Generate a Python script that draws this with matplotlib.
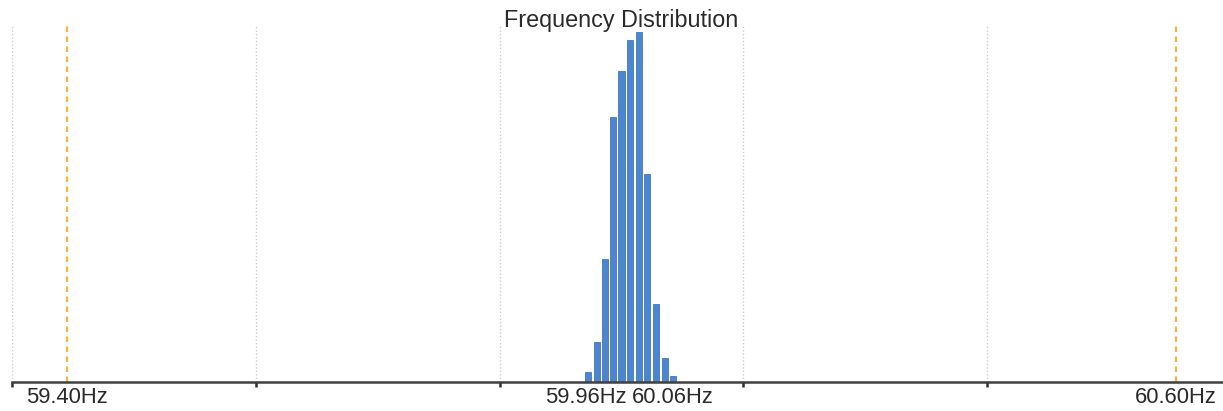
import matplotlib
matplotlib.use("Agg")
import matplotlib.pyplot as plt
import numpy as np

# bin centres (Hz) and bar heights
bins = [59.964, 59.973, 59.982, 59.991, 60.000, 60.009,
        60.019, 60.028, 60.037, 60.047, 60.056]
counts = [9, 39, 122, 264, 310, 341, 349, 207, 77, 23, 5]

limits = [59.40, 60.60]          # orange dashed limit lines
labels = ["59.40Hz", "59.96Hz", "60.06Hz", "60.60Hz"]
label_pos = [59.40, 59.96, 60.06, 60.60]
label_shift = [0, 1, -4, 0]      # px nudges so labels don't collide

xmin, xmax = 59.34, 60.66

plt.rcParams["font.family"] = ["Liberation Sans", "DejaVu Sans"]

fig = plt.figure(figsize=(12.23, 4.11), dpi=100)
ax = fig.add_axes([12 / 1223, 29.5 / 411, 1219 / 1223, 356.5 / 411])

# grid: 5 equal divisions of the range
grid_x = np.linspace(xmin, xmax, 6)
for gx in grid_x:
    ax.axvline(gx, color="#cfcfcf", lw=1, ls=(0, (1, 1.5)), zorder=0)

for lx in limits:
    ax.axvline(lx, color="#f8b245", lw=1.6, ls=(0, (2.5, 2)), zorder=1)

ax.bar(bins, counts, width=0.0066, color="#4a86d2", edgecolor="#3568a8",
       linewidth=0.5, zorder=2)

ax.set_xlim(xmin, xmax)
ax.set_ylim(0, 356)

for s in ["top", "left", "right"]:
    ax.spines[s].set_visible(False)
ax.spines["bottom"].set_color("#404040")
ax.spines["bottom"].set_linewidth(1.8)

ax.set_xticks(grid_x)
ax.set_xticklabels([])
ax.tick_params(axis="x", direction="out", length=3.5, width=1.8, color="#303030")
ax.set_yticks([])

for lab, pos, sh in zip(labels, label_pos, label_shift):
    ax.annotate(lab, xy=(pos, 0), xycoords=("data", "axes fraction"),
                xytext=(sh * 0.72, -11.5), textcoords="offset points",
                ha="center", va="center", fontsize=15.8, color="#2a2a2a")

# title sits just over the top of the plot area
ax.text(0.4995, 1 + 5 / 356.5, "Frequency Distribution", transform=ax.transAxes,
        ha="center", va="center", fontsize=16.8, color="#2a2a2a")

plt.savefig("out.png", dpi=100)
